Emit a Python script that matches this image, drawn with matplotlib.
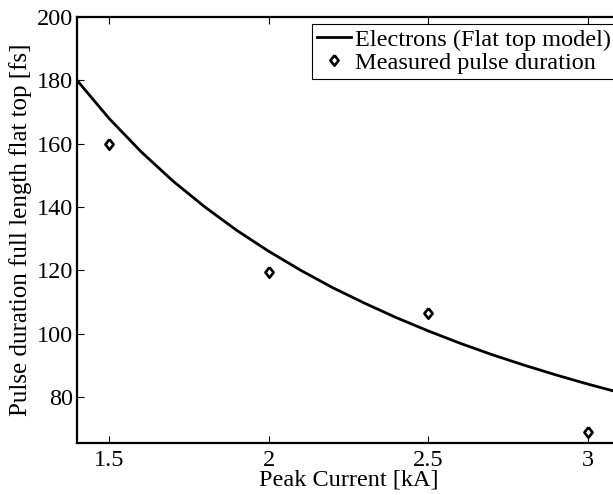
import matplotlib
matplotlib.use("Agg")
import matplotlib.pyplot as plt

# Model curve
model_current = [1.4, 1.5, 1.6, 1.7, 1.8, 1.9, 2.0, 2.1, 2.2, 2.3, 2.4, 2.5,
                 2.6, 2.7, 2.8, 2.9, 3.0, 3.1]
model_duration = [180.0, 168.0, 157.5, 148.2, 140.0, 132.6, 126.0, 120.0, 114.5,
                  109.6, 105.0, 100.8, 96.9, 93.3, 90.0, 86.9, 84.0, 81.3]

# Measured points
meas_current = [1.5, 2.0, 2.5, 3.0]
meas_duration = [160.0, 119.3, 106.6, 69.0]

xticks = [1.5, 2, 2.5, 3]
xticklabels = ["1.5", "2", "2.5", "3"]
yticks = [80, 100, 120, 140, 160, 180, 200]

plt.rcParams['font.family'] = ['Liberation Serif', 'DejaVu Serif']

fig = plt.figure(figsize=(6.13, 4.95), dpi=100)
ax = fig.add_axes([0.1256, 0.105, 1.0114 - 0.1256, 0.9657 - 0.105])

diamond = [(0, 1), (0.78, 0), (0, -1), (-0.78, 0), (0, 1)]

ax.plot(model_current, model_duration, color='black', lw=2.0,
        label='Electrons (Flat top model)')
ax.plot(meas_current, meas_duration, linestyle='none', marker=diamond,
        markersize=7.5, markeredgewidth=1.9, markerfacecolor='white',
        markeredgecolor='black', label='Measured pulse duration')

ax.set_xlim(1.4, 3.1)
ax.set_ylim(65.4, 200)
ax.set_xticks(xticks)
ax.set_xticklabels(xticklabels)
ax.set_yticks(yticks)
ax.tick_params(direction='in', length=5, width=0.8, top=True, right=True,
               labelsize=17.5)
ax.tick_params(axis='x', pad=5)
ax.tick_params(axis='y', pad=3)
for s in ax.spines.values():
    s.set_linewidth(1.6)

ax.set_xlabel('Peak Current [kA]', fontsize=17.5, labelpad=-1)
ax.set_ylabel('Pulse duration full length flat top [fs]', fontsize=18, labelpad=3)

leg = ax.legend(loc='upper right', bbox_to_anchor=(0.9915, 0.984),
                fontsize=17.5, frameon=True, fancybox=False, framealpha=1,
                edgecolor='black', handlelength=1.4, handletextpad=0.15,
                borderpad=0.2, labelspacing=0.05, borderaxespad=0.0)
leg.get_frame().set_linewidth(0.8)

fig.savefig('out.png', dpi=100)
